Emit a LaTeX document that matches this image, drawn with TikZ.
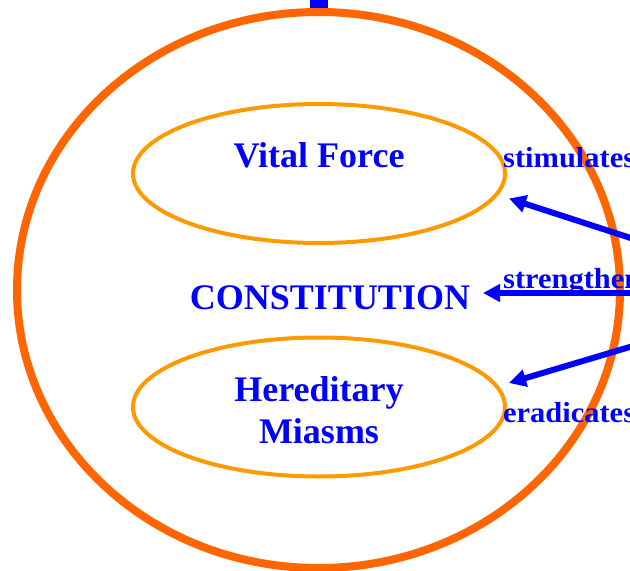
\documentclass[tikz,border=0pt]{standalone}
\usepackage{fontspec}
\setmainfont{Liberation Serif}
\newfontfamily\widefont[FakeStretch=1.05]{Liberation Serif}
\usetikzlibrary{arrows.meta,shapes.geometric}
\definecolor{ringorange}{HTML}{FF6600}
\definecolor{innerorange}{HTML}{FF9900}
\begin{document}
	\begin{tikzpicture}[x=1pt,y=-1pt,
		    inner/.style={ellipse, draw=innerorange, line width=4pt, minimum width=372pt, minimum height=139pt, inner sep=0pt},
		    big/.style={text=blue, font=\fontsize{36}{42}\selectfont\bfseries, inner sep=0pt},
		    side/.style={text=blue, font=\widefont\fontsize{29}{30}\selectfont\bfseries, inner sep=0pt, anchor=base west},
		    arr/.style={-{Triangle[length=17pt,width=17pt]}, draw=blue, line width=6pt}]
		    \useasboundingbox (0,0) rectangle (630,571);
		    \fill[blue] (310,-8) rectangle (328,11);
		    \draw[ringorange, line width=8pt] (318.5,290) ellipse (301.5 and 278);
		    \node[inner] (vital) at (319,173.5) {};
		    \node[inner] (miasms) at (319,407) {};
		    \node[big, anchor=base] (vitaltext) at (319,167) {Vital Force};
		    \node[big, anchor=base] (constitution) at (330,309) {CONSTITUTION};
		    \node[big, anchor=base] (hered) at (319,401) {Hereditary};
		    \node[big, anchor=base] (miasmstext) at (319,443) {Miasms};
		    \node[side] (stim) at (503,167) {stimulates};
		    \node[side] (streng) at (503,288) {strengthens};
		    \node[side] (erad) at (503,422) {eradicates};
		    \coordinate (from1) at (680,254);
		    \coordinate (from2) at (680,293);
		    \coordinate (from3) at (680,332);
		    \coordinate (to1) at ([shift={(2,25)}]vital.east);
		    \coordinate (to2) at (483,293);
		    \coordinate (to3) at ([shift={(2,-24)}]miasms.east);
		    \draw[arr] (from1) -- (to1);
		    \draw[arr] (from2) -- (to2);
		    \draw[arr] (from3) -- (to3);
	    \end{tikzpicture}
\end{document}
